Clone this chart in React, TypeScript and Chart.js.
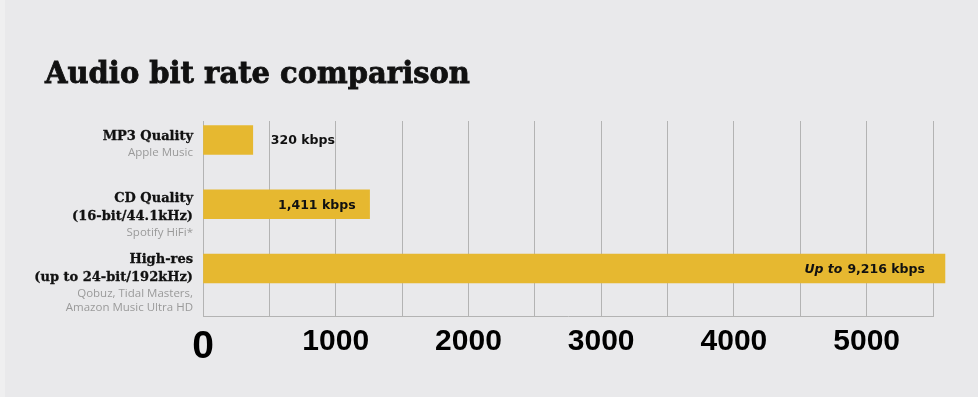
import { useEffect, useRef } from 'react';
import { Chart, registerables } from 'chart.js';

Chart.register(...registerables);

const chartTitle = 'Audio bit rate comparison';
const categoryTitles = [['MP3 Quality'], ['CD Quality', '(16-bit/44.1kHz)'], ['High-res', '(up to 24-bit/192kHz)']];
const categorySources = [['Apple Music'], ['Spotify HiFi*'], ['Qobuz, Tidal Masters,', 'Amazon Music Ultra HD']];
// bit rates printed on the bars (kbps)
const bitRates = [320, 1411, 9216];
const valuePrefixes = ['', '', 'Up to'];
// bar lengths as drawn against the axis in the picture
const barLengths = [375, 1255, 5590];
const xGridValues = [0, 500, 1000, 1500, 2000, 2500, 3000, 3500, 4000, 4500, 5000, 5500];
const xTickLabels = ['0', '1000', '2000', '3000', '4000', '5000'];
const xMax = 5500;

const BG = '#e9e9eb';
const BAR = '#e6b830';
const GRID = '#b3b3b3';

const labelsPlugin = {
  id: 'customLabels',
  afterDraw(chart: any) {
    const ctx = chart.ctx;
    const area = chart.chartArea;
    ctx.save();
    // title
    ctx.font = 'bold 29px "DejaVu Serif"';
    ctx.fillStyle = '#111';
    ctx.strokeStyle = '#111';
    ctx.lineWidth = 0.8;
    ctx.textAlign = 'left';
    ctx.textBaseline = 'alphabetic';
    ctx.fillText(chartTitle, 45, 83);
    ctx.strokeText(chartTitle, 45, 83);

    const meta = chart.getDatasetMeta(0);
    meta.data.forEach((bar: any, i: number) => {
      // category labels
      const lines = [
        ...categoryTitles[i].map((t) => ({ t, bold: true })),
        ...categorySources[i].map((t) => ({ t, bold: false })),
      ];
      let y = bar.y - 3 * (lines.length - 1);
      lines.forEach((ln, j) => {
        if (j > 0) y += lines[j - 1].bold ? (ln.bold ? 18 : 16) : 14;
        ctx.font = ln.bold ? 'bold 13px "DejaVu Serif"' : '11.5px "Open Sans"';
        ctx.fillStyle = ln.bold ? '#111' : '#9a9a9a';
        ctx.textAlign = 'right';
        ctx.textBaseline = 'middle';
        ctx.fillText(ln.t, area.left - 10, y);
        if (ln.bold) {
          ctx.lineWidth = 0.3;
          ctx.strokeText(ln.t, area.left - 10, y);
        }
      });

      // value labels
      const text = bitRates[i].toLocaleString('en-US') + ' kbps';
      ctx.font = 'bold 12.5px "DejaVu Sans"';
      ctx.fillStyle = '#111';
      ctx.textBaseline = 'middle';
      const w = bar.x - area.left;
      const vy = bar.y + 1;
      if (w < 100) {
        ctx.textAlign = 'left';
        ctx.fillText(text, bar.x + 18, vy);
      } else {
        const xr = bar.x - (valuePrefixes[i] ? 20 : 14);
        ctx.textAlign = 'right';
        ctx.fillText(text, xr, vy);
        if (valuePrefixes[i]) {
          const tw = ctx.measureText(text).width;
          ctx.font = 'italic bold 12.5px "DejaVu Sans"';
          ctx.fillText(valuePrefixes[i], xr - tw - 5, vy);
        }
      }
    });
    ctx.restore();
  },
};

export default function App() {
  const ref = useRef<HTMLCanvasElement>(null);
  useEffect(() => {
    if (!ref.current) return;
    const chart = new Chart(ref.current, {
      type: 'bar',
      data: {
        datasets: [
          {
            data: barLengths.map((v, i) => ({ x: v, y: i })),
            backgroundColor: BAR,
            borderWidth: 0,
            barThickness: 29,
            clip: false,
          },
        ],
      },
      options: {
        indexAxis: 'y',
        animation: false,
        responsive: true,
        maintainAspectRatio: false,
        layout: { padding: { left: 203, right: 45, top: 121, bottom: 0 } },
        plugins: { legend: { display: false }, tooltip: { enabled: false }, title: { display: false } },
        scales: {
          x: {
            type: 'linear',
            min: 0,
            max: xMax,
            offset: false,
            afterBuildTicks: (scale: any) => {
              scale.ticks = xGridValues.map((v) => ({ value: v }));
            },
            afterFit: (scale: any) => {
              scale.height = 81;
            },
            grid: { color: GRID, lineWidth: 1, drawTicks: false, offset: false },
            border: { display: true, color: GRID, width: 1 },
            ticks: {
              autoSkip: false,
              maxRotation: 0,
              minRotation: 0,
              padding: 8,
              color: '#000',
              font: (c: any) =>
                c.tick && c.tick.value === 0
                  ? { family: '"Liberation Sans"', weight: 'bold', size: 39 }
                  : { family: '"Liberation Sans"', weight: 'bold', size: 30 },
              callback: (v: any) => {
                const s = String(v);
                return xTickLabels.includes(s) ? s : '';
              },
            },
          },
          y: {
            type: 'linear',
            reverse: true,
            offset: false,
            min: -0.296,
            max: 2.739,
            display: false,
          },
        },
      },
      plugins: [labelsPlugin],
    });
    return () => chart.destroy();
  }, []);
  return (
    <div
      style={{
        position: 'fixed',
        left: 0,
        top: 0,
        width: 978,
        height: 397,
        background: BG,
        boxSizing: 'border-box',
        borderLeft: '5px solid #efeff0',
      }}
    >
      <div style={{ position: 'absolute', left: -5, top: 0, width: 978, height: 397 }}>
        <canvas ref={ref} />
      </div>
    </div>
  );
}
